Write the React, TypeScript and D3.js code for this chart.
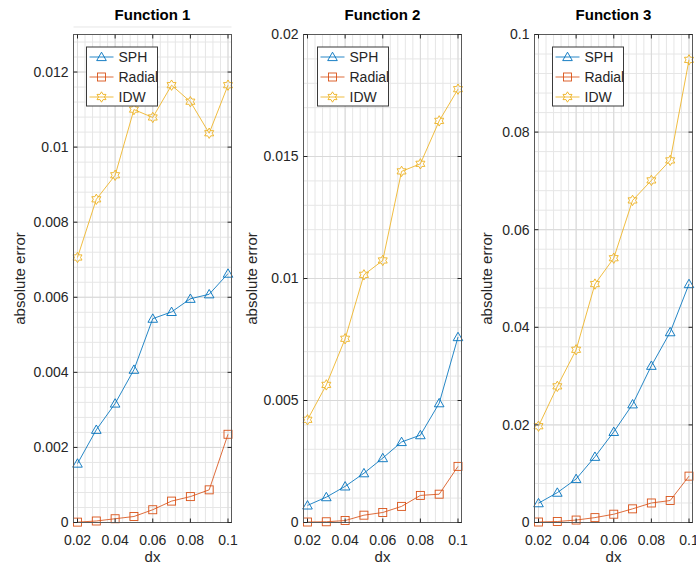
import React from "react";
import * as d3 from "d3";

// grid spacing on the x axis
const dx = [0.02, 0.03, 0.04, 0.05, 0.06, 0.07, 0.08, 0.09, 0.1];
const xTickLabels = ["0.02", "0.04", "0.06", "0.08", "0.1"];
const xTicks = [0.02, 0.04, 0.06, 0.08, 0.1];

const seriesNames = ["SPH", "Radial", "IDW"];
const titles = ["Function 1", "Function 2", "Function 3"];

// Function 1
const f1Sph = [0.00157, 0.00247, 0.00317, 0.00407, 0.00543, 0.00561, 0.00596, 0.00608, 0.00663];
const f1Radial = [0.00001, 0.00004, 0.0001, 0.00016, 0.00034, 0.00057, 0.00069, 0.00087, 0.00235];
const f1Idw = [0.00706, 0.00861, 0.00925, 0.011, 0.01079, 0.01165, 0.01121, 0.01037, 0.01165];
const f1YTicks = [0, 0.002, 0.004, 0.006, 0.008, 0.01, 0.012];
const f1YLabels = ["0", "0.002", "0.004", "0.006", "0.008", "0.01", "0.012"];

// Function 2
const f2Sph = [0.0007, 0.00104, 0.00148, 0.00202, 0.00264, 0.0033, 0.00358, 0.00489, 0.0076];
const f2Radial = [0.00002, 0.00003, 0.00008, 0.0003, 0.00041, 0.00066, 0.00111, 0.00116, 0.0023];
const f2Idw = [0.00421, 0.00564, 0.00753, 0.01015, 0.01074, 0.01439, 0.0147, 0.01646, 0.01776];
const f2YTicks = [0, 0.005, 0.01, 0.015, 0.02];
const f2YLabels = ["0", "0.005", "0.01", "0.015", "0.02"];

// Function 3
const f3Sph = [0.00396, 0.00612, 0.00892, 0.01347, 0.01857, 0.02422, 0.03212, 0.039, 0.04886];
const f3Radial = [0.0001, 0.0002, 0.0005, 0.001, 0.0017, 0.0028, 0.004, 0.0045, 0.0095];
const f3Idw = [0.01973, 0.0279, 0.03539, 0.04886, 0.05416, 0.066, 0.0701, 0.0742, 0.0948];
const f3YTicks = [0, 0.02, 0.04, 0.06, 0.08, 0.1];
const f3YLabels = ["0", "0.02", "0.04", "0.06", "0.08", "0.1"];

const colors = ["#0072BD", "#D95319", "#EDB120"];
const FONT = "'Liberation Sans', Arial, Helvetica, sans-serif";
const TEXT = "#262626";

const panels = [
  { title: titles[0], series: [f1Sph, f1Radial, f1Idw], yMax: 0.013, yTicks: f1YTicks, yLabels: f1YLabels, minor: 0.0004,
    left: 73.5, right: 231.5, legendX: 86.5, yLabelX: 25 },
  { title: titles[1], series: [f2Sph, f2Radial, f2Idw], yMax: 0.02, yTicks: f2YTicks, yLabels: f2YLabels, minor: 0.001,
    left: 303.5, right: 461.5, legendX: 317.5, yLabelX: 257 },
  { title: titles[2], series: [f3Sph, f3Radial, f3Idw], yMax: 0.1, yTicks: f3YTicks, yLabels: f3YLabels, minor: 0.004,
    left: 534.5, right: 692.5, legendX: 552.5, yLabelX: 492 },
];

const TOP = 34.5;
const BOTTOM = 522.5;

// six pointed star marker (MATLAB hexagram)
function hexagram(r: number) {
  const pts: [number, number][] = [];
  for (let i = 0; i < 12; i++) {
    const a = -Math.PI / 2 + (i * Math.PI) / 6;
    const rr = i % 2 === 0 ? r : r / Math.sqrt(3);
    pts.push([rr * Math.cos(a), rr * Math.sin(a)]);
  }
  return "M" + pts.map(p => p.join(",")).join("L") + "Z";
}

function Marker({ kind, x, y, color }: { kind: number; x: number; y: number; color: string }) {
  if (kind === 0) {
    const s = 4.8;
    return <path d={`M${x},${y - s}L${x + s},${y + s * 0.75}L${x - s},${y + s * 0.75}Z`} fill="none" stroke={color} strokeWidth={0.9} />;
  }
  if (kind === 1) {
    return <rect x={x - 4} y={y - 4} width={8} height={8} fill="none" stroke={color} strokeWidth={0.9} />;
  }
  return <path d={hexagram(5.2)} transform={`translate(${x},${y})`} fill="none" stroke={color} strokeWidth={0.9} />;
}

function Panel({ p }: { p: typeof panels[number] }) {
  const x = d3.scaleLinear().domain([0.02, 0.1]).range([p.left + 4, p.right - 3.5]);
  const y = d3.scaleLinear().domain([0, p.yMax]).range([BOTTOM, TOP]);
  const line = d3.line<number>().x((_, i) => x(dx[i])).y(d => y(d));

  const nMinorY = Math.round(p.yMax / p.minor);
  const minorY = d3.range(0, nMinorY + 1).map(i => i * p.minor);
  const minorX = d3.range(0, 21).map(i => 0.02 + i * 0.004);
  const cx = (p.left + p.right) / 2;
  const lx = p.legendX;

  return (
    <g>
      <rect x={p.left} y={TOP} width={p.right - p.left} height={BOTTOM - TOP} fill="#fff" />
      {minorX.map((v, i) => (
        <line key={"mx" + i} x1={x(v)} x2={x(v)} y1={TOP} y2={BOTTOM} stroke="#e6e6e6" strokeWidth={1} />
      ))}
      {minorY.map((v, i) => (
        <line key={"my" + i} x1={p.left} x2={p.right} y1={y(v)} y2={y(v)} stroke="#e6e6e6" strokeWidth={1} />
      ))}
      {xTicks.map((v, i) => (
        <line key={"gx" + i} x1={x(v)} x2={x(v)} y1={TOP} y2={BOTTOM} stroke="#d9d9d9" strokeWidth={1} />
      ))}
      {p.yTicks.map((v, i) => (
        <line key={"gy" + i} x1={p.left} x2={p.right} y1={y(v)} y2={y(v)} stroke="#d9d9d9" strokeWidth={1} />
      ))}

      {/* data */}
      {p.series.map((s, k) => (
        <g key={"s" + k}>
          <path d={line(s) || ""} fill="none" stroke={colors[k]} strokeWidth={0.85} />
          {s.map((v, i) => (
            <Marker key={i} kind={k} x={x(dx[i])} y={y(v)} color={colors[k]} />
          ))}
        </g>
      ))}

      {/* box and ticks */}
      <rect x={p.left} y={TOP} width={p.right - p.left} height={BOTTOM - TOP} fill="none" stroke="#5a5a5a" strokeWidth={1} />
      {xTicks.map((v, i) => (
        <g key={"tx" + i}>
          <line x1={x(v)} x2={x(v)} y1={BOTTOM} y2={BOTTOM - 4} stroke="#262626" />
          <line x1={x(v)} x2={x(v)} y1={TOP} y2={TOP + 4} stroke="#262626" />
          <text x={x(v)} y={545} textAnchor="middle" fontSize={14} fill={TEXT}>{xTickLabels[i]}</text>
        </g>
      ))}
      {p.yTicks.map((v, i) => (
        <g key={"ty" + i}>
          <line x1={p.left} x2={p.left + 4} y1={y(v)} y2={y(v)} stroke="#262626" />
          <line x1={p.right} x2={p.right - 4} y1={y(v)} y2={y(v)} stroke="#262626" />
          <text x={p.left - 5} y={y(v)} dy="0.35em" textAnchor="end" fontSize={14} fill={TEXT}>{p.yLabels[i]}</text>
        </g>
      ))}

      {/* labels */}
      <text x={cx} y={20} textAnchor="middle" fontSize={15} fontWeight="bold" fill="#000">{p.title}</text>
      <text x={cx} y={562} textAnchor="middle" fontSize={15} fill={TEXT}>dx</text>
      <text transform={`translate(${p.yLabelX},${(TOP + BOTTOM) / 2}) rotate(-90)`} textAnchor="middle" fontSize={15} fill={TEXT}>absolute error</text>

      {/* legend */}
      <rect x={lx} y={47} width={71} height={59} fill="#fff" stroke="#3a3a3a" strokeWidth={1} />
      {seriesNames.map((name, k) => {
        const ly = 57 + k * 20;
        return (
          <g key={"l" + k}>
            <line x1={lx + 3} x2={lx + 27} y1={ly} y2={ly} stroke={colors[k]} strokeWidth={0.85} />
            <Marker kind={k} x={lx + 15} y={ly} color={colors[k]} />
            <text x={lx + 32} y={ly} dy="0.35em" fontSize={14} fill={TEXT}>{name}</text>
          </g>
        );
      })}
    </g>
  );
}

export default function App() {
  return (
    <svg width={696} height={565} style={{ position: "absolute", left: 0, top: 0, background: "#fff" }} fontFamily={FONT}>
      <rect width={696} height={565} fill="#fff" />
      {panels.map((p, i) => (
        <Panel key={i} p={p} />
      ))}
    </svg>
  );
}
